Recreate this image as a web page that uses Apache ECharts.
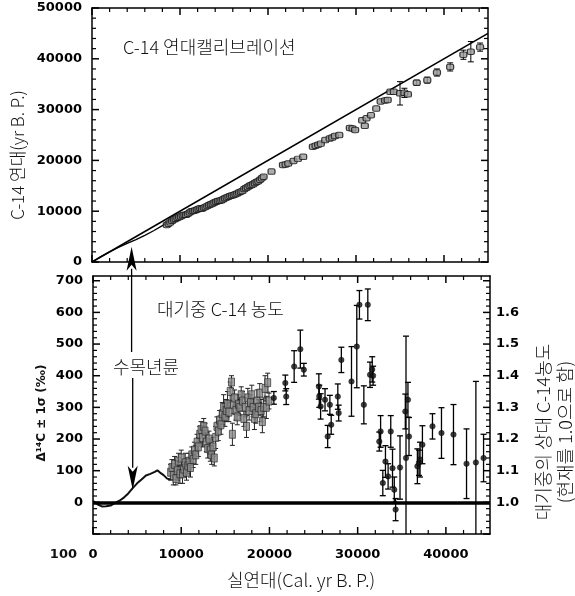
<!DOCTYPE html>
<html>
<head>
<meta charset="utf-8">
<script src="https://cdn.jsdelivr.net/npm/echarts@6/dist/echarts.min.js"></script>
<style>
html,body{margin:0;padding:0;background:#fff;}
#c{width:575px;height:596px;}
</style>
</head>
<body>
<div id="c"></div>
<script>
// ---------- DATA ----------
// Top panel: 1:1 reference line
const diagX = [0, 45000];
const diagY = [0, 45000];
// Top panel: tree-ring calibration curve
const treeCalX = [0, 1000, 2000, 3000, 4000, 5000, 6000, 7000, 8000, 9000];
const treeC14Y = [0, 1050, 2000, 2850, 3650, 4400, 5250, 6150, 7150, 8100];
// Top panel: calibration points (cal yr, C-14 yr, error)
const calX = [8500, 8700, 8900, 9100, 9300, 9500, 9700, 9900, 10100, 10300, 10500, 10700, 10900, 11100, 11300, 11500, 11700, 11900, 12100, 12300, 12500, 12700, 12900, 13100, 13300, 13500, 13700, 13900, 14100, 14300, 14500, 14700, 14900, 15100, 15300, 15500, 15700, 15900, 16100, 16300, 16500, 16700, 16900, 17100, 17300, 17500, 17700, 17900, 18100, 18300, 18500, 18700, 18900, 19100, 19300, 19500, 20400,
  21700, 22000, 22300, 22900, 23400, 24000, 25100, 25400, 25700, 26000, 26500, 27000, 27300, 27600, 28100,
  29300, 29600, 29900, 31000, 30700, 31200, 31700, 32300, 32800, 33300, 33600, 33900, 34300, 35000, 35500, 35900, 36900, 38100, 39200, 40700, 42200, 43050, 44100];
const c14Y = [7300, 7550, 7800, 8100, 8350, 8500, 8700, 8850, 9000, 9200, 9300, 9300, 9500, 9750, 10000, 10050, 10150, 10300, 10450, 10600, 10500, 10700, 10850, 11050, 11200, 11350, 11500, 11700, 11850, 12000, 12050, 12150, 12350, 12550, 12700, 12850, 13000, 13100, 13200, 13350, 13500, 13700, 13850, 14000, 14350, 14550, 14750, 15000, 15150, 15300, 15550, 15750, 15900, 16200, 16500, 16800, 17800,
  19100, 19200, 19400, 19900, 20300, 20700, 22700, 22900, 23100, 23300, 24000, 24300, 24500, 24800, 25000,
  26400, 26300, 26000, 26800, 27900, 28300, 28900, 30200, 31600, 31800, 31900, 33500, 33500, 33200, 33300, 33000, 35300, 35800, 37300, 38400, 40800, 41400, 42300];
const c14Err = [0,0,0,0,0,0,0,0,0,0,0,0,0,0,0,0,0,0,0,0,0,0,0,0,0,0,0,0,0,0,0,0,0,0,0,0,0,0,0,0,0,0,0,0,0,0,0,0,0,0,0,0,0,0,0,0,0,
  0,0,0,0,0,0,0,0,0,0,0,0,0,0,0,
  0,0,0,0,0,0,0,0,0,0,0,0,0,2300,900,0,500,600,700,800,900,2000,800];

// Bottom panel: tree-ring Δ14C curve
const treeDX = [0, 500, 1000, 1500, 2000, 2500, 3000, 3500, 4000, 4500, 5000, 5500, 6000, 6500, 7000, 7300, 7600, 8000, 8400, 8800];
const treeDY = [5, -6, -13, -12, -10, -2, 5, 15, 28, 45, 60, 72, 85, 90, 96, 101, 94, 86, 75, 72];
// Bottom panel: dense coral / varve Δ14C values
const denseX = [8800, 8950, 9100, 9250, 9400, 9550, 9700, 9850, 10000, 10150, 10300, 10450, 10600, 10750, 10900, 11050, 11200, 11350, 11500, 11650, 11800, 11950, 12100, 12250, 12400, 12550, 12700, 12850, 13000, 13150, 13300, 13450, 13600, 13750, 13900, 14050, 14200, 14350, 14500, 14650, 14800, 14950, 15100, 15250, 15400, 15550, 15700, 15800, 15900, 16050, 16200, 16350, 16500, 16650, 16800, 16950, 17100, 17250, 17400, 17550, 17700, 17850, 18000, 18150, 18300, 18450, 18600, 18750, 18900, 19050, 19200, 19350, 19500, 19650, 19800, 19950];
const denseY = [95, 110, 85, 120, 75, 100, 130, 90, 140, 90, 105, 125, 95, 115, 130, 110, 150, 135, 165, 150, 190, 175, 215, 230, 205, 240, 225, 190, 170, 200, 165, 150, 175, 140, 205, 240, 225, 260, 245, 280, 300, 270, 290, 310, 285, 350, 380, 215, 310, 330, 290, 270, 310, 300, 340, 320, 265, 300, 240, 330, 290, 315, 340, 300, 265, 280, 320, 300, 345, 290, 255, 300, 360, 300, 378, 320];
const denseErr = [25, 25, 30, 25, 20, 30, 25, 30, 25, 30, 25, 30, 25, 25, 25, 30, 25, 25, 25, 30, 25, 30, 25, 25, 30, 25, 25, 30, 30, 25, 35, 30, 30, 25, 35, 30, 30, 30, 30, 35, 40, 30, 35, 40, 30, 30, 20, 35, 30, 25, 30, 25, 30, 25, 25, 30, 25, 30, 35, 30, 30, 25, 30, 30, 35, 30, 35, 25, 30, 35, 35, 30, 40, 35, 30, 25];
// Bottom panel: scattered Δ14C values
const sparseX = [20500, 21800, 21900, 22800, 23500, 23900, 25600, 25650, 25800, 26300, 26600, 26850, 27000, 27750, 27850, 28150, 29300, 29900, 30200, 30700, 31150, 31400, 31650, 31750, 32450, 32600, 32850, 33150, 33450, 33750, 33950, 34150, 34300, 34800, 35400, 35480, 35700, 35820, 36770, 36950, 37070, 37340, 38480, 39500, 40860, 42340, 43400, 44270];
const sparseY = [330, 377, 334, 429, 484, 419, 366, 335, 303, 324, 208, 308, 245, 334, 282, 450, 382, 492, 624, 308, 624, 403, 420, 400, 192, 224, 61, 129, 82, 224, 108, 40, -23, 110, 287, 140, 324, 208, 114, 125, 135, 182, 240, 219, 214, 122, 126, 140];
const sparseErr = [20, 25, 25, 50, 60, 20, 40, 35, 40, 35, 35, 30, 30, 40, 25, 40, 110, 130, 45, 60, 50, 40, 40, 30, 30, 50, 40, 50, 40, 50, 60, 40, 35, 100, 55, 385, 55, 60, 55, 40, 55, 60, 40, 80, 95, 110, 256, 75];
// Arrow annotation (cal yr, C-14 yr tip, Δ14C tip)
const arrowX = 4500, arrowTopTip = 3000, arrowBottomTip = 40;

// Axis extents and tick steps
const X_MIN = 0, X_MAX = 45000, X_MAJOR = 10000, X_MINOR = 2000;
const TY_MIN = 0, TY_MAX = 50000, TY_MAJOR = 10000, TY_MINOR = 2000;
const BY_MIN = -100, BY_MAX = 715, BY_MAJOR = 100, BY_MINOR = 20;

// ---------- CHART ----------
const chart = echarts.init(document.getElementById('c'));
const NUMFONT = "'DejaVu Sans', sans-serif";
const ls = {color: '#000', width: 1.5};
function baseAxis(extra) {
  return Object.assign({
    axisLine: {show: true, onZero: false, lineStyle: ls},
    axisTick: {show: false},
    minorTick: {show: false},
    splitLine: {show: false},
    axisLabel: {show: false}
  }, extra);
}
const lbl = {show: true, color: '#000', fontFamily: NUMFONT, fontWeight: 'bold', fontSize: 13, formatter: v => String(v)};

// inward frame ticks, positioned through the axes' scales
function tickList(kind, min, max, step, major) {
  const out = [];
  const start = Math.ceil(min / step) * step;
  for (let v = start; v <= max; v += step) {
    out.push([kind, v, (v % major === 0) ? 7 : 4]);
  }
  return out;
}
function tickRender(xMin, xMax, yMin, yMax) {
  return function (params, api) {
    const kind = api.value(0), v = api.value(1), len = api.value(2);
    const st = {stroke: '#000', lineWidth: len > 5 ? 1.5 : 1.2};
    if (kind === 0) {
      const b = api.coord([v, yMin]), t = api.coord([v, yMax]);
      return {type: 'group', children: [
        {type: 'line', shape: {x1: b[0], y1: b[1], x2: b[0], y2: b[1] - len}, style: st},
        {type: 'line', shape: {x1: t[0], y1: t[1], x2: t[0], y2: t[1] + len}, style: st}
      ]};
    }
    const l = api.coord([xMin, v]), r = api.coord([xMax, v]);
    return {type: 'group', children: [
      {type: 'line', shape: {x1: l[0], y1: l[1], x2: l[0] + len, y2: l[1]}, style: st},
      {type: 'line', shape: {x1: r[0], y1: r[1], x2: r[0] - len, y2: r[1]}, style: st}
    ]};
  };
}

function errRender(capW, color, lw) {
  return function (params, api) {
    const x = api.value(0), lo = api.value(1), hi = api.value(2);
    const a = api.coord([x, lo]), b = api.coord([x, hi]);
    const st = {stroke: color, lineWidth: lw};
    return {type: 'group', children: [
      {type: 'line', shape: {x1: a[0], y1: a[1], x2: b[0], y2: b[1]}, style: st},
      {type: 'line', shape: {x1: a[0] - capW, y1: a[1], x2: a[0] + capW, y2: a[1]}, style: st},
      {type: 'line', shape: {x1: b[0] - capW, y1: b[1], x2: b[0] + capW, y2: b[1]}, style: st}
    ]};
  };
}
const headL = 24, headW = 5;
function arrowRender(dir, yEnd) {
  return function (params, api) {
    const p = api.coord([api.value(0), api.value(1)]);
    const x = p[0], y = p[1];
    return {type: 'group', children: [
      {type: 'line', shape: {x1: x, y1: y + dir * (headL - 2), x2: x, y2: yEnd}, style: {stroke: '#000', lineWidth: 1.3}},
      {type: 'polygon', shape: {points: [[x, y], [x - headW, y + dir * headL], [x, y + dir * (headL - 6)], [x + headW, y + dir * headL]]}, style: {fill: '#000'}}
    ]};
  };
}
const zip = (xs, ys) => xs.map((x, i) => [x, ys[i]]);
const errData = (xs, ys, es) => xs.map((x, i) => [x, ys[i] - es[i], ys[i] + es[i]]).filter((d, i) => es[i] > 0);

const topTicks = tickList(0, X_MIN, X_MAX, X_MINOR, X_MAJOR).concat(tickList(1, TY_MIN, TY_MAX, TY_MINOR, TY_MAJOR));
const botTicks = tickList(0, X_MIN, X_MAX, X_MINOR, X_MAJOR).concat(tickList(1, BY_MIN, BY_MAX, BY_MINOR, BY_MAJOR));

const KF = "300 18px 'Noto Sans CJK KR'";
const option = {
  animation: false,
  backgroundColor: '#fff',
  grid: [
    {left: 92, top: 8, width: 396, height: 254},
    {left: 93, top: 276, width: 397, height: 258}
  ],
  xAxis: [
    baseAxis({gridIndex: 0, type: 'value', min: X_MIN, max: X_MAX, interval: X_MAJOR, position: 'bottom'}),
    baseAxis({gridIndex: 0, type: 'value', min: X_MIN, max: X_MAX, interval: X_MAJOR, position: 'top'}),
    baseAxis({gridIndex: 1, type: 'value', min: X_MIN, max: X_MAX, interval: X_MAJOR, position: 'bottom',
      axisLabel: Object.assign({}, lbl, {margin: 14, formatter: v => (v % X_MAJOR === 0) ? String(v) : ''})}),
    baseAxis({gridIndex: 1, type: 'value', min: X_MIN, max: X_MAX, interval: X_MAJOR, position: 'top'})
  ],
  yAxis: [
    baseAxis({gridIndex: 0, type: 'value', min: TY_MIN, max: TY_MAX, interval: TY_MAJOR, position: 'left',
      axisLabel: Object.assign({}, lbl, {margin: 10})}),
    baseAxis({gridIndex: 0, type: 'value', min: TY_MIN, max: TY_MAX, interval: TY_MAJOR, position: 'right'}),
    baseAxis({gridIndex: 1, type: 'value', min: BY_MIN, max: BY_MAX, interval: BY_MAJOR, position: 'left',
      axisLabel: Object.assign({}, lbl, {margin: 10,
        formatter: v => (v >= 0 && v <= 700 && Math.abs(v % 100) < 1e-6) ? String(v) : ''})}),
    baseAxis({gridIndex: 1, type: 'value', min: 1 + BY_MIN / 1000, max: 1 + BY_MAX / 1000, interval: 0.1, position: 'right',
      axisLabel: Object.assign({}, lbl, {margin: 6,
        formatter: v => (v > 0.99 && v < 1.61) ? v.toFixed(1) : ''})})
  ],
  graphic: [
    {type: 'text', left: 123, top: 38, style: {text: 'C-14 연대캘리브레이션', font: KF, fill: '#111'}},
    {type: 'text', left: 157, top: 300, style: {text: '대기중 C-14 농도', font: KF, fill: '#111'}},
    {type: 'text', x: 146, y: 367, style: {text: '수목년륜', font: KF, fill: '#111', align: 'center', verticalAlign: 'middle'}},
    {type: 'text', x: 18, y: 155, rotation: Math.PI / 2, style: {text: 'C-14 연대(yr B. P.)', font: "300 17px 'Noto Sans CJK KR'", fill: '#111', align: 'center', verticalAlign: 'middle'}},
    {type: 'text', x: 42, y: 413, rotation: Math.PI / 2, style: {text: 'Δ¹⁴C ± 1σ (‰)', font: "bold 12px 'DejaVu Sans'", fill: '#111', align: 'center', verticalAlign: 'middle'}},
    {type: 'text', x: 554, y: 432, rotation: Math.PI / 2, style: {text: '대기중의 상대 C-14농도\n(현재를 1.0으로 함)', font: KF, lineHeight: 22, fill: '#111', align: 'center', verticalAlign: 'middle'}},
    {type: 'text', x: 301, y: 580, style: {text: '실연대(Cal. yr B. P.)', font: KF, fill: '#111', align: 'center', verticalAlign: 'middle'}},
    {type: 'text', x: 77, y: 555, style: {text: '100', font: "bold 13px 'DejaVu Sans'", fill: '#111', align: 'right', verticalAlign: 'middle'}}
  ],
  series: [
    {type: 'custom', xAxisIndex: 0, yAxisIndex: 0, renderItem: tickRender(X_MIN, X_MAX, TY_MIN, TY_MAX),
      data: topTicks, clip: false, silent: true, z: 6},
    {type: 'line', xAxisIndex: 0, yAxisIndex: 0, data: zip(diagX, diagY), symbol: 'none',
      lineStyle: {color: '#000', width: 1.6}, z: 3},
    {type: 'line', xAxisIndex: 0, yAxisIndex: 0, data: zip(treeCalX, treeC14Y), symbol: 'none',
      lineStyle: {color: '#000', width: 1.3}, z: 3},
    {type: 'custom', xAxisIndex: 0, yAxisIndex: 0, renderItem: errRender(3, '#000', 1),
      data: errData(calX, c14Y, c14Err), clip: true, z: 4},
    {type: 'scatter', xAxisIndex: 0, yAxisIndex: 0, data: zip(calX, c14Y), symbol: 'roundRect',
      symbolSize: [7, 5.5], itemStyle: {color: '#9a9a9a', borderColor: '#111', borderWidth: 1.1}, z: 5},
    {type: 'custom', xAxisIndex: 0, yAxisIndex: 0, renderItem: arrowRender(1, 352),
      data: [[arrowX, arrowTopTip]], clip: false, z: 10},

    {type: 'custom', xAxisIndex: 2, yAxisIndex: 2, renderItem: tickRender(X_MIN, X_MAX, BY_MIN, BY_MAX),
      data: botTicks, clip: false, silent: true, z: 6},
    {type: 'line', xAxisIndex: 2, yAxisIndex: 2, data: zip(treeDX, treeDY), symbol: 'none',
      lineStyle: {color: '#111', width: 2}, z: 4,
      markLine: {silent: true, symbol: 'none', label: {show: false},
        lineStyle: {color: '#000', width: 3.5, type: 'solid'}, data: [{yAxis: 0}]}},
    {type: 'custom', xAxisIndex: 2, yAxisIndex: 2, renderItem: errRender(2.5, '#222', 1),
      data: errData(denseX, denseY, denseErr), clip: true, z: 4},
    {type: 'scatter', xAxisIndex: 2, yAxisIndex: 2, data: zip(denseX, denseY), symbol: 'rect',
      symbolSize: [6, 8], itemStyle: {color: '#8a8a8a', borderColor: '#222', borderWidth: 0.8}, z: 5},
    {type: 'custom', xAxisIndex: 2, yAxisIndex: 2, renderItem: errRender(3, '#000', 1.3),
      data: errData(sparseX, sparseY, sparseErr), clip: true, z: 4},
    {type: 'scatter', xAxisIndex: 2, yAxisIndex: 2, data: zip(sparseX, sparseY), symbol: 'circle',
      symbolSize: 5.5, itemStyle: {color: '#111', borderColor: '#000', borderWidth: 0.5}, z: 5},
    {type: 'custom', xAxisIndex: 2, yAxisIndex: 2, renderItem: arrowRender(-1, 378),
      data: [[arrowX, arrowBottomTip]], clip: false, z: 10}
  ]
};
chart.setOption(option);
</script>
</body>
</html>
